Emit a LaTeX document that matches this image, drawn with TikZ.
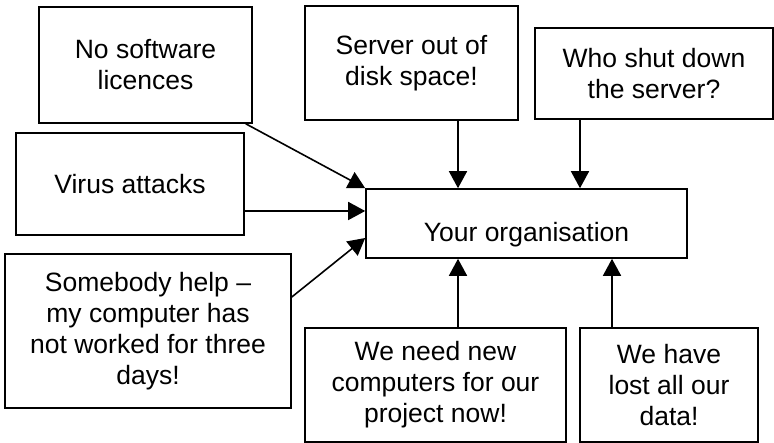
\documentclass[tikz,border=0pt]{standalone}
\usepackage{fontspec}
\setmainfont{Liberation Sans}
\usetikzlibrary{arrows.meta}

\begin{document}
\begin{tikzpicture}[x=1pt,y=-1pt,>={Triangle[length=17pt,width=18pt]},
                box/.style={draw,line width=1.6pt,align=center,inner sep=0pt,
                        font=\fontsize{26.5}{31}\selectfont},
                arr/.style={->,line width=1.6pt}]
                \useasboundingbox (0,0) rectangle (774,443);

                \node[box,minimum width=213pt,minimum height=116pt] (nosoft) at(145.5,65) {No software\\licences};
                \node[box,minimum width=213pt,minimum height=114pt] (server) at(411.5,63) {Server out of\\disk space!};
                \node[box,minimum width=238pt,minimum height=91pt] (whoshut) at(654,73.5) {Who shut down\\the server?};
                \node[box,minimum width=228pt,minimum height=102pt] (virus) at(130,184) {Virus attacks};
                \node[box,minimum width=321pt,minimum height=69pt,text height=37pt,text depth=0pt] (org) at(526.5,223.5) {Your organisation};
                \node[box,minimum width=286pt,minimum height=154pt] (help) at(148,331) {Somebody help --\\my computer has\\not worked for three\\days!};
                \node[box,minimum width=261pt,minimum height=114pt] (newpc) at(435.5,385) {We need new\\computers for our\\project now!};
                \node[box,minimum width=178pt,minimum height=114pt] (lost) at(669,385) {We have\\lost all our\\data!};

                \draw[arr] ([xshift=-7pt]nosoft.south east)--(org.north west);
                \draw[arr] ([yshift=-27pt]virus.east)--([yshift=12.5pt]org.west);
                \draw[arr] ([yshift=34pt]help.east)--([yshift=-14.5pt]org.west);

                \draw[arr] ([xshift=46.5pt]server.south)--([xshift=-68.5pt]org.north);
                \draw[arr] ([xshift=-74pt]whoshut.south)--([xshift=53.5pt]org.north);

                \draw[arr] ([xshift=22.5pt]newpc.north)--([xshift=-68.5pt]org.south);
                \draw[arr] ([xshift=-57pt]lost.north)--([xshift=85.5pt]org.south);
            \end{tikzpicture}
\end{document}
